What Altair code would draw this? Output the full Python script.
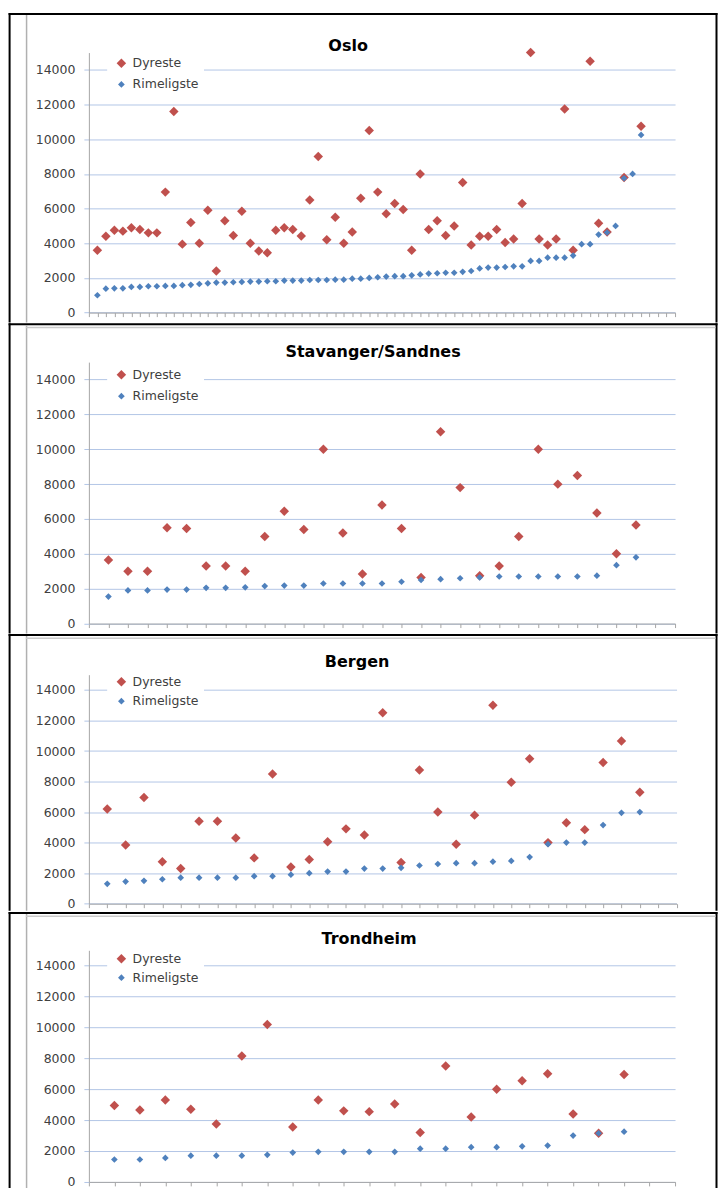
import altair as alt
import pandas as pd

# ---------------- data ----------------
series_names = ["Dyreste", "Rimeligste"]
y_ticks = [0, 2000, 4000, 6000, 8000, 10000, 12000, 14000]

oslo_dyreste = [3600, 4400, 4750, 4700, 4900, 4800, 4600, 4600, 6950, 11600,
                3950, 5200, 4000, 5900, 2400, 5300, 4450, 5850, 4000, 3550,
                3450, 4750, 4900, 4800, 4420, 6500, 9000, 4200, 5500, 4000,
                4650, 6600, 10500, 6950, 5700, 6300, 5950, 3600, 8000, 4800,
                5300, 4450, 5000, 7500, 3900, 4400, 4400, 4800, 4050, 4250,
                6300, 15000, 4250, 3900, 4250, 11750, 3600, None, 14500, 5150,
                4650, None, 7800, None, 10750]
oslo_rimeligste = [1000, 1380, 1400, 1400, 1480, 1480, 1520, 1520, 1540, 1540,
                   1580, 1600, 1650, 1690, 1730, 1730, 1750, 1770, 1790, 1790,
                   1810, 1810, 1850, 1850, 1850, 1880, 1880, 1880, 1900, 1900,
                   1960, 1960, 2000, 2040, 2080, 2100, 2100, 2150, 2200, 2250,
                   2270, 2300, 2300, 2350, 2400, 2550, 2600, 2600, 2630, 2670,
                   2670, 2980, 2980, 3170, 3170, 3170, 3290, 3950, 3950, 4500,
                   4620, 5000, 7750, 8000, 10250]

stav_dyreste = [3650, 3000, 3000, 5500, 5450, 3300, 3300, 3000, 5000, 6450,
                5400, 10000, 5200, 2850, 6800, 5450, 2650, 11000, 7800, 2750,
                3300, 5000, 10000, 8000, 8500, 6350, 4000, 5650]
stav_rimeligste = [1550, 1900, 1900, 1950, 1950, 2050, 2050, 2080, 2150, 2180,
                   2180, 2300, 2300, 2300, 2300, 2400, 2500, 2550, 2600, 2650,
                   2700, 2700, 2700, 2700, 2700, 2750, 3350, 3800]

berg_dyreste = [6200, 3850, 6950, 2750, 2300, 5400, 5400, 4300, 3000, 8500,
                2400, 2900, 4050, 4900, 4500, 12500, 2700, 8750, 6000, 3900,
                5800, 13000, 7950, 9500, 4000, 5300, 4850, 9250, 10650, 7300]
berg_rimeligste = [1300, 1450, 1500, 1600, 1700, 1700, 1700, 1700, 1800, 1800,
                   1900, 2000, 2100, 2100, 2300, 2300, 2350, 2500, 2600, 2650,
                   2650, 2750, 2800, 3050, 3900, 4000, 4000, 5150, 5950, 6000]

trond_dyreste = [4950, 4650, 5300, 4700, 3750, 8150, 10200, 3550, 5300, 4600,
                 4550, 5050, 3200, 7500, 4200, 6000, 6550, 7000, 4400, 3150, 6950]
trond_rimeligste = [1450, 1450, 1550, 1700, 1700, 1700, 1750, 1900, 1950, 1950,
                    1950, 1950, 2150, 2150, 2250, 2250, 2300, 2350, 3000, 3150, 3250]

cities = ["Oslo", "Stavanger/Sandnes", "Bergen", "Trondheim"]
x_axis_max = [69, 30, 32, 23]

# ---------------- styling ----------------
RED = "#C0504D"
BLUE = "#4F81BD"
GRID = "#B3C6E6"
AXIS_GRAY = "#A6A6A6"
TEXT = "#404040"
FONT = "DejaVu Sans"

decor = pd.DataFrame({"d": [0]})


def long_df(dy, ri):
    rows = []
    for i, v in enumerate(dy, 1):
        if v is not None:
            rows.append({"idx": i, "pris": v, "serie": series_names[0]})
    for i, v in enumerate(ri, 1):
        rows.append({"idx": i, "pris": v, "serie": series_names[1]})
    return pd.DataFrame(rows)


def box(x1, x2, y1, y2, color):
    # filled rectangle without stroke: its bounds are exact
    return alt.Chart(decor).mark_rect(color=color).encode(
        x=alt.value(x1), x2=alt.value(x2), y=alt.value(y1), y2=alt.value(y2))


def panel(name, dy, ri, xmax, W, H, top, bot, title_x, title_y,
          leg_y, row_pad, gray_top):
    df = long_df(dy, ri)
    pts = alt.Chart(df).mark_point(filled=True, shape="diamond", opacity=1).encode(
        x=alt.X("idx:Q",
                scale=alt.Scale(domain=[0, xmax], nice=False, zero=True),
                axis=alt.Axis(values=list(range(0, xmax + 1)), labels=False,
                              title=None, grid=False, tickSize=4,
                              tickColor=AXIS_GRAY, domainColor=AXIS_GRAY)),
        y=alt.Y("pris:Q",
                scale=alt.Scale(domain=[0, 15000], nice=False),
                axis=alt.Axis(values=y_ticks, format="d", title=None, grid=True,
                              gridColor=GRID, gridWidth=1, tickSize=5,
                              tickColor=GRID, domainColor=AXIS_GRAY,
                              labelPadding=9, labelFont=FONT, labelFontSize=12.5,
                              labelColor=TEXT)),
        color=alt.Color("serie:N",
                        scale=alt.Scale(domain=series_names, range=[RED, BLUE]),
                        legend=alt.Legend(orient="none", legendX=18.3, legendY=leg_y,
                                          title=None, fillColor="white", padding=5,
                                          symbolType="diamond", symbolSize=55,
                                          symbolOffset=3, labelOffset=5,
                                          labelFont=FONT, labelFontSize=12.5,
                                          labelColor=TEXT, rowPadding=row_pad,
                                          direction="vertical", symbolStrokeWidth=0)),
        size=alt.Size("serie:N",
                      scale=alt.Scale(domain=series_names, range=[90, 45]),
                      legend=None),
    )
    left, right, gray_x = -79.4, 628.5, -62.4
    layers = [pts,
              box(left - 1, right + 1, top - 1, top + 1, "black"),      # top border
              box(left - 1, left + 1, top - 1, bot, "black"),           # left border
              box(right - 1, right + 1, top - 1, bot, "black"),         # right border
              box(gray_x - 0.75, gray_x + 0.75, top + 1, bot, "#B0B0B0")]
    if gray_top:
        layers.append(box(gray_x - 0.75, right - 1, top + 2.5, top + 4, "#CCCCCC"))
    title = alt.Chart(decor).mark_text(
        text=name, font=FONT, fontSize=16, fontWeight="bold", color="black",
        align="center", baseline="alphabetic").encode(
        x=alt.value(title_x), y=alt.value(title_y))
    layers.append(title)
    return alt.layer(*layers).properties(width=W, height=H)


# panel geometry, relative to each plot area's top-left corner
p1 = panel(cities[0], oslo_dyreste, oslo_rimeligste, x_axis_max[0], 587, 260.4,
           -38.6, 270.4, 259.6, -1.9, -0.65, 8.3, False)
p2 = panel(cities[1], stav_dyreste, stav_rimeligste, x_axis_max[1], 587, 261.8,
           -37.9, 271.8, 284.6, -5.0, 1.35, 8.5, True)
p3 = panel(cities[2], berg_dyreste, berg_rimeligste, x_axis_max[2], 588.5, 229.3,
           -39.7, 236.3, 268.6, -7.4, -4.25, 6.5, True)
p4 = panel(cities[3], trond_dyreste, trond_rimeligste, x_axis_max[3], 587, 231.9,
           -37.3, 245.2, 280.6, -6.5, -2.75, 5.9, True)

chart = alt.vconcat(p1, p2, p3, p4, spacing=0).resolve_scale(
    color="independent", size="independent", x="independent", y="independent"
).resolve_legend(color="independent", size="independent").properties(
    padding={"left": 0, "top": 3.8, "right": 0, "bottom": 0}
).configure_view(stroke=None)

chart.save("out.html", embed_options={"renderer": "svg", "actions": False})
